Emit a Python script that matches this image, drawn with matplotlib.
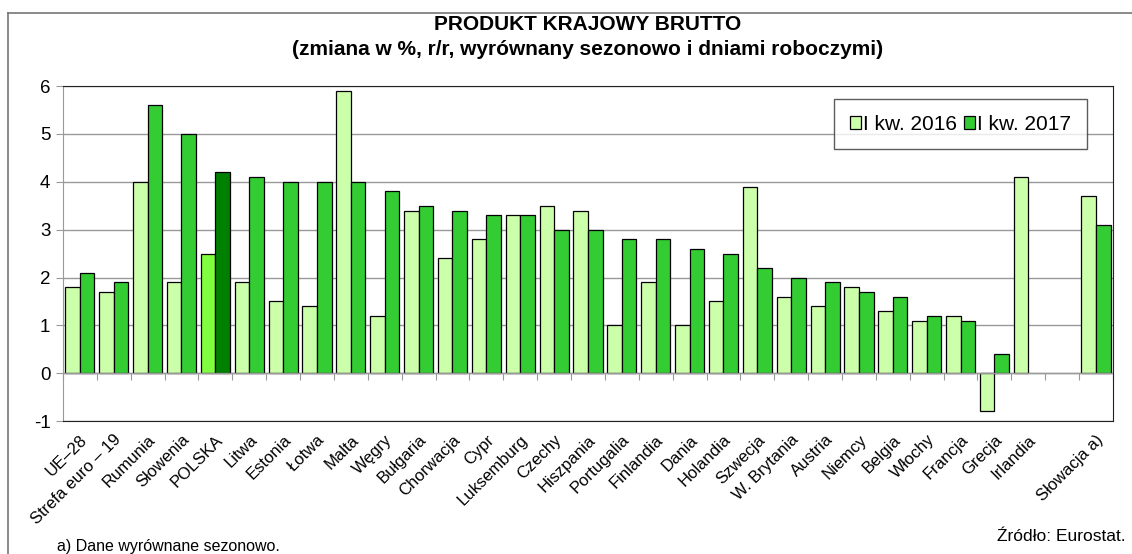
"""GDP y/y change, Q1 2016 vs Q1 2017, EU countries (recreated chart)."""

import matplotlib.pyplot as plt
import numpy as np
from matplotlib.lines import Line2D

plt.rcParams["font.family"] = ["Liberation Sans", "DejaVu Sans"]

CATEGORIES = [
    "UE–28", "Strefa euro – 19", "Rumunia", "Słowenia", "POLSKA", "Litwa",
    "Estonia", "Łotwa", "Malta", "Węgry", "Bułgaria", "Chorwacja", "Cypr",
    "Luksemburg", "Czechy", "Hiszpania", "Portugalia", "Finlandia", "Dania",
    "Holandia", "Szwecja", "W. Brytania", "Austria", "Niemcy", "Belgia",
    "Włochy", "Francja", "Grecja", "Irlandia", "", "Słowacja a)",
]
Q1_2016 = [
    1.8, 1.7, 4.0, 1.9, 2.5, 1.9, 1.5, 1.4, 5.9, 1.2, 3.4, 2.4, 2.8, 3.3,
    3.5, 3.4, 1.0, 1.9, 1.0, 1.5, 3.9, 1.6, 1.4, 1.8, 1.3, 1.1, 1.2, -0.8,
    4.1, np.nan, 3.7,
]
Q1_2017 = [
    2.1, 1.9, 5.6, 5.0, 4.2, 4.1, 4.0, 4.0, 4.0, 3.8, 3.5, 3.4, 3.3, 3.3,
    3.0, 3.0, 2.8, 2.8, 2.6, 2.5, 2.2, 2.0, 1.9, 1.7, 1.6, 1.2, 1.1, 0.4,
    np.nan, np.nan, 3.1,
]
SERIES_LABELS = ["I kw. 2016", "I kw. 2017"]
HIGHLIGHT = "POLSKA"

LIGHT = "#ccffaa"
DARK = "#33cc33"
HL_LIGHT = "#80ff40"
HL_DARK = "#008000"
GRID = "#999999"

fig = plt.figure(figsize=(11.32, 5.54), dpi=100)
ax = fig.add_axes([0.0556, 0.240, 0.9276, 0.6045])

x = np.arange(len(CATEGORIES))
w = 0.43
c16 = [HL_LIGHT if c == HIGHLIGHT else LIGHT for c in CATEGORIES]
c17 = [HL_DARK if c == HIGHLIGHT else DARK for c in CATEGORIES]
ax.bar(x - w / 2, Q1_2016, w, color=c16, edgecolor="black", linewidth=0.9,
       label=SERIES_LABELS[0], zorder=3)
ax.bar(x + w / 2, Q1_2017, w, color=c17, edgecolor="black", linewidth=0.9,
       label=SERIES_LABELS[1], zorder=3)

ax.set_xlim(-0.5, len(CATEGORIES) - 0.5)
ax.set_ylim(-1, 6)
ax.set_yticks(range(-1, 7))
ax.tick_params(axis="y", labelsize=13.5, length=5, color=GRID, pad=4)
ax.set_yticklabels([str(v) for v in range(-1, 7)])
ax.grid(axis="y", color=GRID, linewidth=1, zorder=0)
ax.axhline(0, color=GRID, linewidth=1, zorder=4)

ax.set_xticks(x)
ax.set_xticklabels(CATEGORIES, rotation=45, ha="right", va="top",
                   rotation_mode="anchor", fontsize=12)
ax.tick_params(axis="x", length=0, pad=8)

# category separator ticks sit on the zero line
sec = ax.secondary_xaxis(0, transform=ax.transData)
sec.set_xticks(np.arange(-0.5, len(CATEGORIES), 1.0))
sec.set_xticklabels([])
sec.tick_params(axis="x", length=5, color=GRID, direction="out")
sec.spines["bottom"].set_visible(False)

for side in ("top", "right", "bottom"):
    ax.spines[side].set_color("#222222")
ax.spines["left"].set_color(GRID)

leg = ax.legend(loc="upper right", bbox_to_anchor=(0.975, 0.961), ncol=2,
                fontsize=15, frameon=True, fancybox=False, handlelength=0.55,
                handleheight=0.55, handletextpad=0.1, columnspacing=0.3,
                borderpad=0.75, borderaxespad=0)
leg.get_frame().set_edgecolor("#333333")
leg.get_frame().set_linewidth(1)

title_x = 0.0556 + 0.9276 / 2
fig.text(title_x, 0.955, "PRODUKT KRAJOWY BRUTTO", ha="center", va="center",
         fontsize=15, fontweight="bold")
fig.text(title_x, 0.910, "(zmiana w %, r/r, wyrównany sezonowo i dniami roboczymi)",
         ha="center", va="center", fontsize=15, fontweight="bold")
fig.text(0.050, 0.006, "a) Dane wyrównane sezonowo.", ha="left",
         va="baseline", fontsize=11.5)
fig.text(0.994, 0.018, "Źródło: Eurostat.", ha="right", va="bottom",
         fontsize=12.5)

# outer frame: top and left edges only
fig.add_artist(Line2D([0.007, 1.0], [0.977, 0.977], color="#777777", lw=1.2))
fig.add_artist(Line2D([0.007, 0.007], [0.0, 0.977], color="#777777", lw=1.2))

fig.savefig("out.png", dpi=100)
